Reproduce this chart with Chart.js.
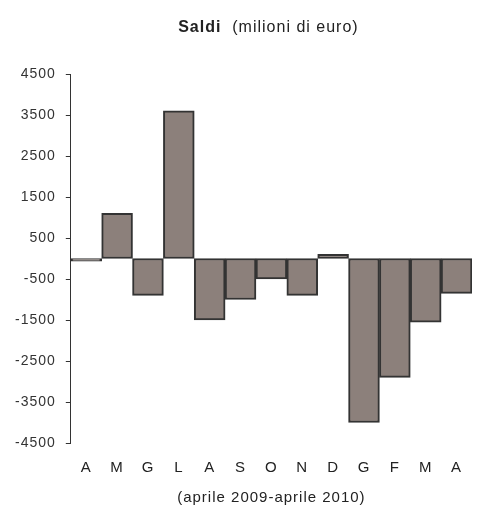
<!DOCTYPE html>
<html>
<head>
<meta charset="utf-8">
<script src="https://cdn.jsdelivr.net/npm/chart.js@4"></script>
<style>
  html, body { margin: 0; padding: 0; background: #fff; }
  #wrap { width: 480px; height: 511px; }
</style>
</head>
<body>
<div id="wrap"><canvas id="saldiChart" width="480" height="511"></canvas></div>
<script>
// months, April 2009 - April 2010
const months = ["A", "M", "G", "L", "A", "S", "O", "N", "D", "G", "F", "M", "A"];
const saldi = [-65, 1100, -900, 3600, -1500, -1000, -500, -900, 100, -4000, -2900, -1550, -850];
const yTicks = [-4500, -3500, -2500, -1500, -500, 500, 1500, 2500, 3500, 4500];

const FONT = "'Liberation Sans', Arial, sans-serif";
const SPACING = "1px";

// the original text is set a little wider than Arial
const spacingPlugin = {
  id: "letterSpacing",
  beforeLayout(chart) { chart.ctx.letterSpacing = SPACING; },
  beforeDraw(chart) { chart.ctx.letterSpacing = SPACING; }
};

// title with bold "Saldi" and normal unit text
const titlePlugin = {
  id: "mixedTitle",
  afterDraw(chart) {
    const ctx = chart.ctx;
    const area = chart.chartArea;
    const bold = "Saldi";
    const rest = "  (milioni di euro)";
    ctx.save();
    ctx.letterSpacing = SPACING;
    ctx.fillStyle = "#222";
    ctx.textBaseline = "middle";
    ctx.font = "bold 16px " + FONT;
    const w1 = ctx.measureText(bold).width;
    ctx.font = "16px " + FONT;
    const w2 = ctx.measureText(rest).width;
    let x = (area.left + area.right) / 2 - (w1 + w2) / 2 - 3;
    ctx.font = "bold 16px " + FONT;
    ctx.fillText(bold, x, 28);
    ctx.font = "16px " + FONT;
    ctx.fillText(rest, x + w1, 28);
    ctx.restore();
  }
};

new Chart(document.getElementById("saldiChart"), {
  type: "bar",
  data: {
    labels: months,
    datasets: [{
      data: saldi,
      backgroundColor: "#8c807b",
      borderColor: "#333333",
      borderWidth: 2,
      borderSkipped: false,
      barPercentage: 1,
      categoryPercentage: 1
    }]
  },
  options: {
    responsive: false,
    animation: false,
    layout: { padding: { top: 74, right: 8, left: 5, bottom: 0 } },
    plugins: {
      legend: { display: false },
      tooltip: { enabled: false }
    },
    scales: {
      x: {
        grid: { display: false },
        border: { display: false },
        ticks: { color: "#222", font: { family: FONT, size: 15 }, padding: 8 },
        title: {
          display: true,
          text: "(aprile 2009-aprile 2010)",
          color: "#222",
          font: { family: FONT, size: 15 },
          padding: { top: 4 }
        }
      },
      y: {
        min: -4500,
        max: 4500,
        afterBuildTicks(scale) {
          scale.ticks = yTicks.map(v => ({ value: v }));
        },
        grid: { drawOnChartArea: false, drawTicks: true, tickLength: 5, color: "#333" },
        border: { display: true, color: "#333", width: 1 },
        ticks: {
          color: "#333",
          font: { family: FONT, size: 14 },
          padding: 10,
          callback: v => String(v)
        }
      }
    }
  },
  plugins: [spacingPlugin, titlePlugin]
});
</script>
</body>
</html>
